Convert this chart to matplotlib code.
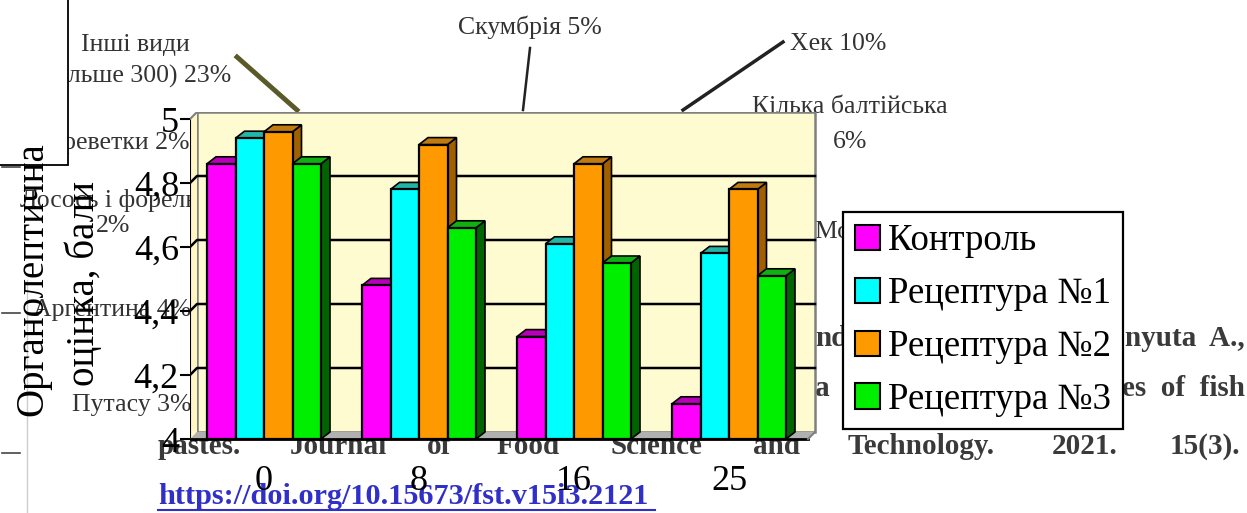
import matplotlib
matplotlib.use('Agg')
import matplotlib.pyplot as plt
from matplotlib.patches import Polygon, Rectangle, Patch
from matplotlib.lines import Line2D

# ---------------- data ----------------
categories = ['0', '8', '16', '25']
series_names = ['Контроль', 'Рецептура №1', 'Рецептура №2', 'Рецептура №3']
kontrol = [4.86, 4.48, 4.32, 4.11]
recipe1 = [4.94, 4.78, 4.61, 4.58]
recipe2 = [4.96, 4.92, 4.86, 4.78]
recipe3 = [4.86, 4.66, 4.55, 4.51]
yticks = [4.0, 4.2, 4.4, 4.6, 4.8, 5.0]
ytick_labels = ['4', '4,2', '4,4', '4,6', '4,8', '5']

front_colors = ['#FF00FF', '#00FFFF', '#FF9900', '#00EE00']
cap_colors = ['#B800B8', '#22B5A8', '#C07A10', '#10B010']
side_colors = ['#800080', '#007878', '#A06000', '#006400']

plt.rcParams['font.family'] = ['Liberation Serif', 'DejaVu Serif']

W, H = 1247, 513
fig = plt.figure(figsize=(W / 100, H / 100), dpi=100)


def fx(x):
    return x / W


def fy(y):
    return 1 - y / H


# ---------------- axes geometry (pixels) ----------------
AX_L, AX_R, AX_T, AX_B = 190, 830, 112, 446
PX_CAT, PX_UNIT, X0 = 155.0, 320.0, 264.0
ax = fig.add_axes([fx(AX_L), fy(AX_B), (AX_R - AX_L) / W, (AX_B - AX_T) / H])
ax.set_xlim((AX_L - X0) / PX_CAT, (AX_R - X0) / PX_CAT)
ax.set_ylim(5 - (AX_B - AX_T) / PX_UNIT, 5)
ax.patch.set_visible(False)
for s in ax.spines.values():
    s.set_visible(False)

dx = 9 / PX_CAT
dy = 7 / PX_UNIT
wdx = 7 / PX_CAT
bw = 28.5 / PX_CAT
wall_l = (197 - X0) / PX_CAT
wall_r = (815 - X0) / PX_CAT
ymin, ymax = yticks[0], yticks[-1]

# back wall
ax.add_patch(Rectangle((wall_l, ymin), wall_r - wall_l, ymax - ymin,
                       facecolor='#FFFBD0', edgecolor='#808080', lw=1.8, zorder=1))
# side wall
ax.add_patch(Polygon([(wall_l - wdx, ymin - dy), (wall_l, ymin), (wall_l, ymax),
                      (wall_l - wdx, ymax - dy)], closed=True,
                     facecolor='#FFF6C4', edgecolor='none', zorder=1))
ax.plot([wall_l - wdx, wall_l - wdx], [ymin - dy, ymax - dy], color='black', lw=1.5, zorder=2)
ax.plot([wall_l - wdx, wall_l], [ymax - dy, ymax], color='#808080', lw=1.5, zorder=2)
# floor
ax.add_patch(Polygon([(wall_l - wdx, ymin - dy), (wall_r - wdx, ymin - dy),
                      (wall_r, ymin), (wall_l, ymin)], closed=True,
                     facecolor='#B0B0B0', edgecolor='none', zorder=2))
ax.plot([wall_l - wdx, wall_r - wdx], [ymin - dy, ymin - dy], color='black', lw=2, zorder=2)
ax.plot([wall_r - wdx, wall_r], [ymin - dy, ymin], color='#808080', lw=1.5, zorder=2)
# gridlines
for v in yticks[1:-1]:
    ax.plot([wall_l - wdx, wall_l, wall_r], [v - dy, v, v], color='black', lw=1.8, zorder=2)

# bars
series = [kontrol, recipe1, recipe2, recipe3]
z = 3
for i in range(len(categories)):
    for j, vals in enumerate(series):
        v = vals[i]
        xl = i + (j - 2) * bw
        xr = xl + bw
        base = ymin - dy
        top = v - dy
        ax.add_patch(Polygon([(xr, base), (xr + dx, base + dy), (xr + dx, v), (xr, top)],
                             closed=True, facecolor=side_colors[j], edgecolor='black',
                             lw=1.2, zorder=z))
        ax.add_patch(Polygon([(xl, top), (xr, top), (xr + dx, v), (xl + dx, v)],
                             closed=True, facecolor=cap_colors[j], edgecolor='black',
                             lw=1.2, zorder=z + 0.1))
        ax.add_patch(Rectangle((xl, base), bw, top - base, facecolor=front_colors[j],
                               edgecolor='black', lw=1.6, zorder=z + 0.2))
        z += 1

ax.set_yticks([t - dy for t in yticks])
ax.set_yticklabels(ytick_labels)
ax.tick_params(axis='y', length=7, width=1.5, labelsize=26, pad=1, color='black')
ax.set_xticks(range(len(categories)))
ax.set_xticklabels(categories)
ax.tick_params(axis='x', length=0, labelsize=26, pad=14)

handles = [Patch(facecolor=c, edgecolor='black', lw=1.5) for c in front_colors]
leg = ax.legend(handles, series_names, loc='upper left',
                bbox_to_anchor=(fx(843), fy(212)), bbox_transform=fig.transFigure,
                frameon=True, fancybox=False, edgecolor='black', framealpha=1,
                fontsize=26.5, handlelength=0.68, handleheight=0.68, handletextpad=0.22,
                labelspacing=0.5, borderpad=0.32, borderaxespad=0)
leg.get_frame().set_linewidth(1.6)
leg.set_zorder(50)

# ---------------- axis title ----------------
fig.text(fx(33), fy(279), 'Органолептична', rotation=90, fontsize=28,
         ha='center', va='center', zorder=1)
fig.text(fx(84), fy(284), 'оцінка, бали', rotation=90, fontsize=28,
         ha='center', va='center', zorder=1)

# ---------------- background page content ----------------
bg = dict(fontsize=18.5, color='#333333', zorder=-1)
fig.text(fx(135), fy(45), 'Інші види', ha='center', va='center', **bg)
fig.text(fx(135), fy(75), '(більше 300) 23%', ha='center', va='center', **bg)
fig.text(fx(530), fy(27), 'Скумбрія 5%', ha='center', va='center', **bg)
fig.text(fx(790), fy(44), 'Хек 10%', ha='left', va='center', **bg)
fig.text(fx(850), fy(107), 'Кілька балтійська', ha='center', va='center', **bg)
fig.text(fx(850), fy(142), '6%', ha='center', va='center', **bg)
fig.text(fx(190), fy(143), 'Креветки 2%', ha='right', va='center', **bg)
fig.text(fx(108), fy(200), 'Лосось і форель', ha='center', va='center', **bg)
fig.text(fx(113), fy(226), '2%', ha='center', va='center', **bg)
fig.text(fx(112), fy(310), 'Аргентина 4%', ha='center', va='center', **bg)
fig.text(fx(132), fy(405), 'Путасу 3%', ha='center', va='center', **bg)
fig.text(fx(815), fy(232), 'Мойва 3%', ha='left', va='center', **bg)

for xs, ys, c, lw in [((237, 297), (57, 110), '#5a5a28', 3.5),
                      ((530, 523), (48, 110), '#222222', 1.8),
                      ((783, 683), (42, 110), '#222222', 2.5)]:
    fig.add_artist(Line2D([fx(x) for x in xs], [fy(y) for y in ys],
                          color=c, lw=lw, zorder=-1))

doc = dict(fontsize=21, color='#3a3a3a', fontweight='bold', va='center', zorder=-1)
fig.text(fx(815), fy(338), 'nd.', ha='left', **doc)
fig.text(fx(1245), fy(338), 'nyuta  A.,', ha='right', **doc)
fig.text(fx(815), fy(388), 'a', ha='left', **doc)
fig.text(fx(1245), fy(388), 'es  of  fish', ha='right', **doc)
for word, x in [('pastes.', 158), ('Journal', 290), ('of', 427), ('Food', 497),
                ('Science', 610), ('and', 753), ('Technology.', 848),
                ('2021.', 1052), ('15(3).', 1170)]:
    fig.text(fx(x), fy(447), word, ha='left', **doc)
fig.text(fx(158), fy(497), 'https://doi.org/10.15673/fst.v15i3.2121', ha='left',
         va='center', fontsize=21.8, color='#3030c8', fontweight='bold', zorder=-1)
fig.add_artist(Line2D([fx(158), fx(655)], [fy(510), fy(510)], color='#3030c8',
                      lw=1.5, zorder=-1))

# top-left frame
fig.add_artist(Rectangle((fx(-5), fy(165)), (68 + 5) / W, 170 / H,
                         transform=fig.transFigure, facecolor='white',
                         edgecolor='black', lw=1.3, zorder=-0.5))
for y in (167, 313, 453):
    fig.add_artist(Line2D([fx(2), fx(20)], [fy(y), fy(y)], color='#444444', lw=1.2, zorder=-1))
fig.add_artist(Line2D([fx(27), fx(27)], [fy(280), fy(513)], color='#cccccc', lw=1.0, zorder=-1))

fig.savefig('out.png', dpi=100)
